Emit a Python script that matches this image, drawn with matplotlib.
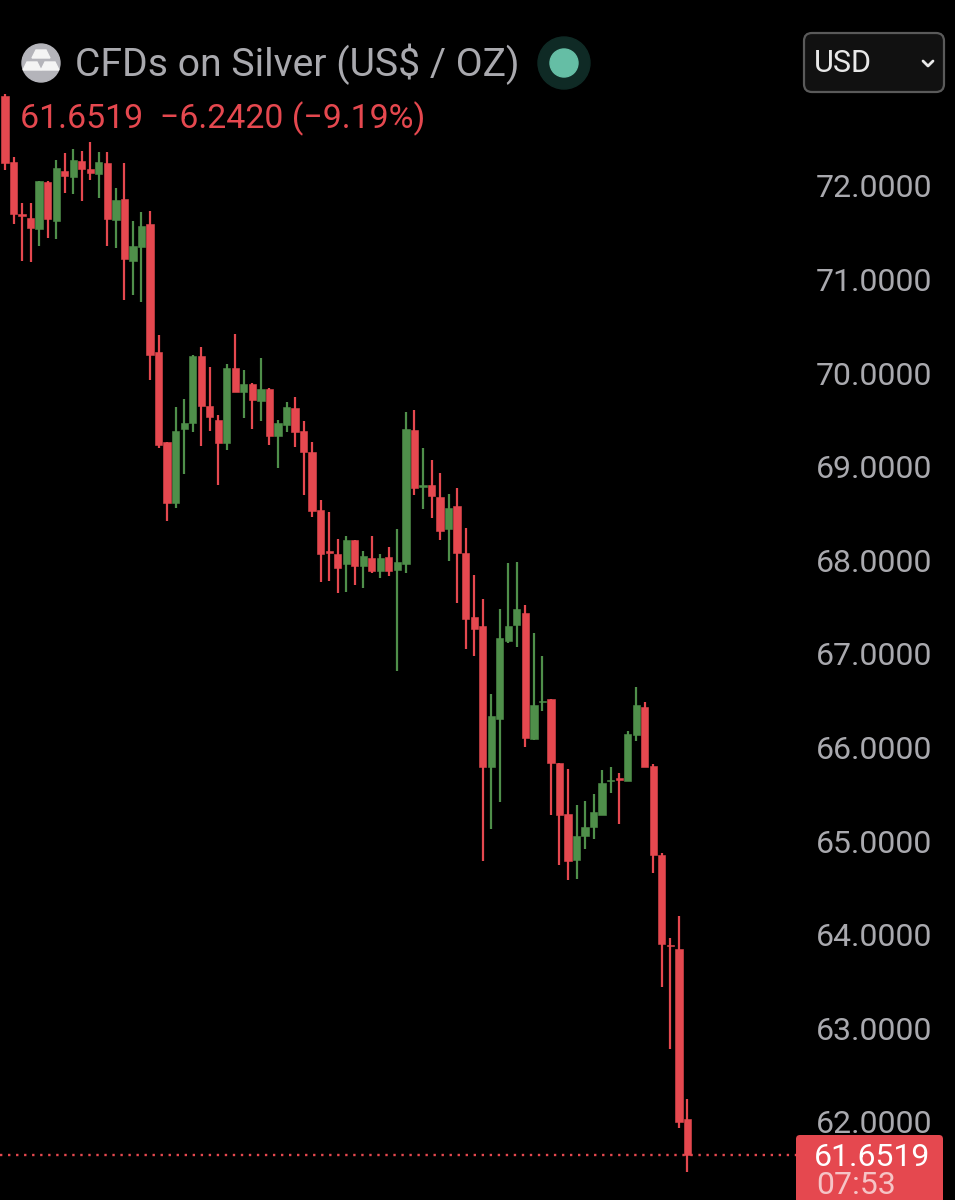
import matplotlib
matplotlib.use("Agg")
import matplotlib.pyplot as plt
from matplotlib.patches import Circle, FancyBboxPatch, Polygon

# OHLC
opens = [72.96, 72.26, 71.70, 71.66, 71.54, 72.04, 71.63, 72.16, 72.10, 72.27,
         72.18, 72.13, 72.25, 71.64, 71.86, 71.20, 71.35, 71.59, 70.23, 69.26,
         68.61, 69.40, 69.47, 70.18, 69.65, 69.50, 69.25, 70.06, 69.80, 69.88,
         69.70, 69.83, 69.33, 69.45, 69.63, 69.38, 69.16, 68.54, 68.10, 68.07,
         67.96, 68.22, 67.94, 68.03, 67.89, 68.04, 67.90, 67.96, 69.39, 68.78,
         68.81, 68.68, 68.33, 68.58, 68.08, 67.40, 67.30, 65.79, 66.31, 67.14,
         67.31, 67.44, 66.09, 66.49, 66.52, 65.84, 65.29, 64.80, 65.05, 65.15,
         65.28, 65.64, 65.68, 65.64, 66.13, 66.43, 65.80, 64.85, 63.89, 63.85,
         62.03]
highs = [72.98, 72.31, 71.82, 71.82, 72.05, 72.05, 72.28, 72.35, 72.39, 72.37,
         72.47, 72.36, 72.36, 71.98, 72.25, 71.63, 71.72, 71.73, 70.41, 69.26,
         69.64, 69.72, 70.19, 70.28, 70.07, 69.55, 70.10, 70.42, 70.03, 69.90,
         70.16, 69.84, 69.50, 69.69, 69.75, 69.49, 69.26, 68.65, 68.52, 68.23,
         68.26, 68.22, 68.10, 68.26, 68.07, 68.14, 68.33, 69.58, 69.61, 69.20,
         69.07, 68.93, 68.71, 68.77, 68.35, 67.84, 67.59, 66.57, 67.48, 67.97,
         67.98, 67.52, 67.22, 66.98, 66.52, 65.84, 65.77, 65.39, 65.43, 65.50,
         65.76, 65.79, 65.73, 66.18, 66.65, 66.49, 65.82, 64.87, 63.97, 64.20,
         62.25]
lows = [72.17, 71.59, 71.20, 71.19, 71.36, 71.44, 71.43, 71.93, 71.91, 71.84,
        72.06, 71.87, 71.36, 71.34, 70.78, 70.84, 70.76, 69.93, 69.20, 68.42,
        68.56, 68.92, 69.37, 69.22, 69.38, 68.81, 69.18, 69.80, 69.52, 69.40,
        69.49, 69.23, 68.99, 69.37, 69.21, 68.70, 68.46, 67.77, 67.78, 67.65,
        67.66, 67.74, 67.70, 67.87, 67.81, 67.83, 66.82, 67.86, 68.70, 68.55,
        68.45, 68.22, 67.99, 67.54, 67.05, 66.98, 64.79, 65.13, 65.42, 67.12,
        67.07, 66.01, 66.08, 66.39, 65.28, 64.75, 64.59, 64.60, 64.92, 65.02,
        65.28, 65.51, 65.18, 65.64, 66.07, 65.79, 64.66, 63.44, 62.78, 61.94,
        61.47]
closes = [72.25, 71.70, 71.68, 71.55, 72.05, 71.65, 72.19, 72.11, 72.28, 72.18,
          72.14, 72.26, 71.65, 71.85, 71.22, 71.36, 71.57, 70.19, 69.23, 68.61,
          69.38, 69.47, 70.18, 69.65, 69.53, 69.25, 70.06, 69.80, 69.88, 69.71,
          69.83, 69.33, 69.47, 69.64, 69.37, 69.16, 68.53, 68.07, 68.08, 67.92,
          68.22, 67.94, 68.05, 67.89, 68.03, 67.89, 67.98, 69.40, 68.77, 68.80,
          68.69, 68.31, 68.56, 68.08, 67.37, 67.27, 65.79, 66.34, 67.17, 67.30,
          67.48, 66.10, 66.45, 66.50, 65.84, 65.28, 64.79, 65.05, 65.15, 65.31,
          65.62, 65.65, 65.65, 66.15, 66.45, 65.79, 64.85, 63.90, 63.88, 62.00,
          61.6519]
price_ticks = [72, 71, 70, 69, 68, 67, 66, 65, 64, 63, 62]
last_price = 61.6519

BG = "#000000"
RED = "#e5484f"
GREEN = "#4f8f4a"
GREY = "#a9a9ae"
FONT = "Roboto"

plt.rcParams["font.family"] = FONT

fig = plt.figure(figsize=(9.55, 12), dpi=100, facecolor=BG)

# chart axes: left 806 px, price labels hang off its right side
ax = fig.add_axes([0, 0, 806 / 955, 1], facecolor=BG)
ax.set_xlim(-0.586, 93.9)
ax.set_ylim(61.166, 73.987)
ax.set_frame_on(False)
ax.set_xticks([])
ax.yaxis.tick_right()
ax.set_yticks(price_ticks)
ax.set_yticklabels([f"{p:.4f}" for p in price_ticks])
ax.tick_params(axis="y", length=0, pad=7, labelsize=23, labelcolor=GREY)

xs = list(range(len(opens)))
colors = [GREEN if c >= o else RED for o, c in zip(opens, closes)]
ax.vlines(xs, lows, highs, colors=colors, linewidth=1.6, zorder=2)
bottoms = [min(o, c) for o, c in zip(opens, closes)]
heights = [abs(c - o) for o, c in zip(opens, closes)]
ax.bar(xs, heights, bottom=bottoms, width=0.85, color=colors,
       edgecolor=colors, linewidth=0.4, zorder=3)

ax.axhline(last_price, color=RED, linewidth=1.7, dashes=(1.0, 2.4), zorder=1)

# overlay in pixel coordinates for the header and price tag
ui = fig.add_axes([0, 0, 1, 1], facecolor="none")
ui.set_xlim(0, 955)
ui.set_ylim(1200, 0)
ui.axis("off")

# silver badge with gold bars
ui.add_patch(Circle((41, 63), 19, color="#b4b4ba"))
for cx, cy in [(41, 54), (32, 66), (50, 66)]:
    ui.add_patch(Polygon([(cx - 5, cy - 4), (cx + 5, cy - 4), (cx + 9, cy + 4), (cx - 9, cy + 4)],
                         color="#f4f4f4"))

ui.text(75, 64, "CFDs on Silver (US$ / OZ)", color=GREY, fontsize=28.2, va="center", ha="left")
ui.text(20, 119, "61.6519  \u22126.2420 (\u22129.19%)", color=RED, fontsize=24.4, va="center", ha="left")

# market-open dot
ui.add_patch(Circle((564, 63), 26, color="#0f2a25"))
ui.add_patch(Circle((564, 63), 14, color="#65bea5"))

# currency dropdown
ui.add_patch(FancyBboxPatch((808, 37), 132, 51, boxstyle="round,pad=4,rounding_size=8",
                            facecolor="#111111", edgecolor="#5a5a5a", linewidth=1.6))
ui.text(814, 63, "USD", color="#e8e8e8", fontsize=22, va="center", ha="left")
ui.plot([923, 928, 933], [61, 66, 61], color="#e8e8e8", linewidth=2, solid_capstyle="round")

# last price tag
ui.add_patch(FancyBboxPatch((796, 1135), 147, 90, boxstyle="round,pad=0,rounding_size=4",
                            facecolor=RED, edgecolor="none"))
ui.text(930, 1157, "61.6519", color="#ffffff", fontsize=23, va="center", ha="right")
ui.text(816, 1186, "07:53", color="#f5c4c6", fontsize=23, va="center", ha="left")

fig.savefig("out.png", dpi=100, facecolor=BG)
plt.close(fig)
